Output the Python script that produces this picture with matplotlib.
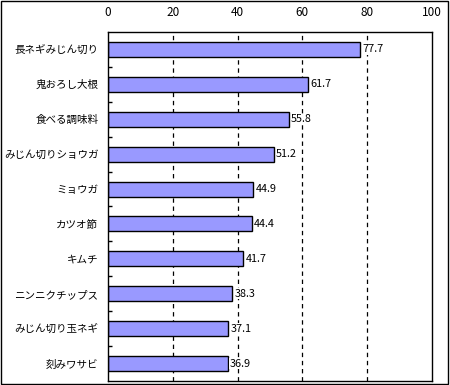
import matplotlib
matplotlib.use("Agg")
import matplotlib.pyplot as plt
from matplotlib.patches import Rectangle

plt.rcParams['font.family'] = ['Noto Sans CJK JP', 'DejaVu Sans']

categories = ['長ネギみじん切り', '鬼おろし大根', '食べる調味料', 'みじん切りショウガ', 'ミョウガ',
              'カツオ節', 'キムチ', 'ニンニクチップス', 'みじん切り玉ネギ', '刻みワサビ']
values = [77.7, 61.7, 55.8, 51.2, 44.9, 44.4, 41.7, 38.3, 37.1, 36.9]
xticks = [0, 20, 40, 60, 80, 100]

fig = plt.figure(figsize=(4.5, 3.85), dpi=100)
ax = fig.add_axes([108 / 450, 1 - 381 / 385, 324 / 450, 349 / 385])

n = len(categories)
pos = list(range(n))
ax.barh(pos, values, height=0.43, color='#9999FF', edgecolor='black', linewidth=1, zorder=2)
for p, v in zip(pos, values):
    ax.text(v + 0.7, p, f'{v:.1f}', va='center', ha='left', fontsize=7.8, zorder=3,
            bbox=dict(facecolor='white', edgecolor='none', pad=0.3))

ax.set_xlim(0, 100)
ax.set_ylim(n - 0.5, -0.5)
ax.set_xticks(xticks)
ax.xaxis.tick_top()
ax.tick_params(axis='x', length=0, pad=9, labelsize=8.5)
for x in xticks[1:-1]:
    ax.axvline(x, color='black', linestyle=(0, (3.5, 3)), linewidth=0.9, zorder=1)

ax.set_yticks(pos)
ax.set_yticklabels(categories, fontsize=7.6)
ax.tick_params(axis='y', length=0, pad=7)
# small boundary ticks on the left axis
ax.set_yticks([p + 0.5 for p in pos[:-1]], minor=True)
ax.tick_params(axis='y', which='minor', direction='in', length=3, width=1)

for s in ax.spines.values():
    s.set_linewidth(1)
    s.set_color('black')

fig.patches.append(Rectangle((0.002, 0.003), 0.993, 0.994, transform=fig.transFigure,
                             fill=False, edgecolor='black', linewidth=1))

fig.savefig('out.png', dpi=100)
